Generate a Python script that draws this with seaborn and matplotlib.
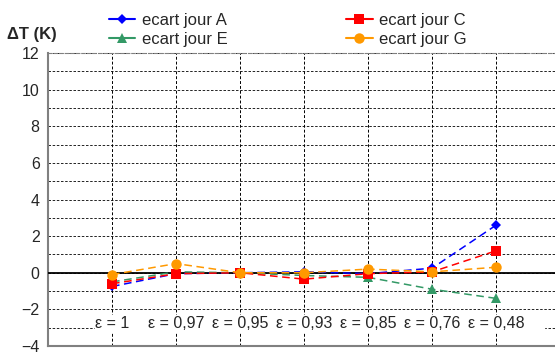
import pandas as pd
import matplotlib.pyplot as plt
import seaborn as sns
import numpy as np
from matplotlib.lines import Line2D

# data
eps_labels = ['ε = 1', 'ε = 0,97', 'ε = 0,95', 'ε = 0,93', 'ε = 0,85', 'ε = 0,76', 'ε = 0,48']
jour_A = [-0.75, -0.05, 0.0, 0.05, -0.05, 0.25, 2.6]
jour_C = [-0.6, -0.05, 0.0, -0.35, -0.05, 0.05, 1.2]
jour_E = [-0.5, 0.05, 0.0, -0.15, -0.25, -0.9, -1.4]
jour_G = [-0.1, 0.5, 0.0, 0.0, 0.2, 0.05, 0.3]

series = ['ecart jour A', 'ecart jour E', 'ecart jour C', 'ecart jour G']
values = {'ecart jour A': jour_A, 'ecart jour C': jour_C,
          'ecart jour E': jour_E, 'ecart jour G': jour_G}
colors = {'ecart jour A': '#0000FF', 'ecart jour C': '#FF0000',
          'ecart jour E': '#339966', 'ecart jour G': '#FF9900'}
markers = {'ecart jour A': 'D', 'ecart jour C': 's',
           'ecart jour E': '^', 'ecart jour G': 'o'}
msize = {'ecart jour A': 5, 'ecart jour C': 7, 'ecart jour E': 7.5, 'ecart jour G': 7.5}

rows = []
for s in series:
    for lab, v in zip(eps_labels, values[s]):
        rows.append({'eps': lab, 'dT': v, 'serie': s})
data = pd.DataFrame(rows)

sns.set_style('white')
plt.rcParams['font.family'] = ['Liberation Sans', 'DejaVu Sans']

fig = plt.figure(figsize=(5.55, 3.53), dpi=100)
ax = fig.add_axes([48 / 555, 7 / 353, 507 / 555, 293 / 353])

for s in series:
    sub = data[data['serie'] == s]
    sns.lineplot(data=sub, x='eps', y='dT', color=colors[s], marker=markers[s],
                 markersize=msize[s], markeredgewidth=0, linestyle=(0, (5, 3)),
                 linewidth=1.1, ax=ax, zorder=4, sort=False)

ax.set_xlim(-1, 6.92)
ax.set_ylim(-4, 12)
ax.set_xticks(range(len(eps_labels)))
ax.set_xticklabels([])
ax.set_yticks(range(-4, 13, 2))
ax.set_yticks(range(-3, 12, 2), minor=True)
ax.tick_params(axis='y', which='major', length=4, color='#808080', width=1,
               labelsize=11.5, pad=2)
ax.tick_params(axis='y', which='minor', length=0)
ax.tick_params(axis='x', length=0)
ax.grid(True, which='both', axis='y', color='black', linestyle=(0, (3, 2)), linewidth=0.6)
ax.grid(True, which='major', axis='x', color='black', linestyle=(0, (3, 2)), linewidth=0.7)
ax.axhline(0, color='black', linewidth=1.3, zorder=3)
ax.set_xlabel('')
ax.set_ylabel('')

ax.spines['left'].set_color('#808080')
ax.spines['left'].set_linewidth(1.5)
ax.spines['bottom'].set_color('#808080')
ax.spines['bottom'].set_linestyle((0, (1, 1)))
ax.spines['bottom'].set_linewidth(1.5)
ax.spines['top'].set_color('#808080')
ax.spines['top'].set_linestyle((0, (3, 2)))
ax.spines['right'].set_visible(False)

# white band behind the category labels
ax.fill_between([-0.27, 6.75], -2.3, -3.2, color='white', zorder=2.5)
for i, lab in enumerate(eps_labels):
    ax.text(i, -2.78, lab, ha='center', va='center', fontsize=11.5, zorder=3)

fig.text(7 / 555, 1 - 34 / 353, 'ΔT (K)', fontsize=12, fontweight='bold',
         ha='left', va='center')

# legend handles drawn with solid lines like the original
handles = [Line2D([], [], color=colors[s], marker=markers[s], markersize=msize[s],
                  markeredgewidth=0, linewidth=1.5) for s in series]
fig.legend(handles, series, ncol=2, loc='upper left', bbox_to_anchor=(96 / 555, 1.0),
           frameon=False, fontsize=12, handlelength=1.6, handletextpad=0.4,
           columnspacing=7.1, labelspacing=0.25, borderaxespad=0.35)

fig.savefig('out.png', dpi=100)
